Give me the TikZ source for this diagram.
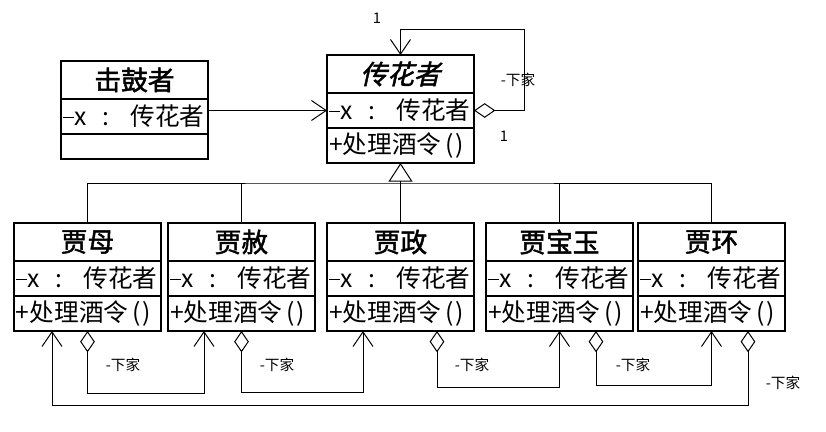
\documentclass[tikz,border=0pt]{standalone}
\usepackage{fontspec}
\setmainfont{Noto Sans CJK SC}
\newfontfamily\titlefont[FakeBold=1.8]{Noto Sans CJK SC}
\newfontfamily\abstractfont[FakeBold=1.8,FakeSlant=0.22]{Noto Sans CJK SC}
\usetikzlibrary{arrows.meta,positioning,calc}
\tikzset{
  classtitle/.style={draw, line width=0.9pt, minimum width=110.25pt, minimum height=28.5pt,
    inner sep=0pt, outer sep=0pt, anchor=north west, font=\titlefont\fontsize{20}{22}\selectfont},
  classrow/.style={draw, line width=0.9pt, minimum width=110.25pt, minimum height=26.25pt,
    text width=107.25pt, inner xsep=1.5pt, inner ysep=0pt, outer sep=0pt, align=left,
    font=\fontsize{18.5}{20}\selectfont},
  conn/.style={line width=0.75pt},
  assoc/.style={conn, -{Straight Barb[length=11pt,width=15pt]}},
  agg/.style={conn, {Diamond[open,length=16pt,width=11pt]}-{Straight Barb[length=11pt,width=15pt]}},
  inherit/.style={conn, -{Triangle[open,length=14pt,width=18pt]}},
  rolename/.style={font=\fontsize{11}{12}\selectfont, inner sep=1pt},
}
% name, top-left corner, title, attribute, operation
\newcommand\umlclass[6][]{%
  \node[classtitle] (#2) at (#3) {#4};
  \node[classrow, below=0pt of #2] (#2-attr) {#5};
  \node[classrow, below=0pt of #2-attr, #1] (#2-op) {#6};
}
\newcommand\attrx{\rule[0.3em]{0.45em}{0.06em}x\hspace{12pt}:\hspace{16pt}传花者}
\newcommand\opjiu{+处理酒令\hspace{3pt}(\hspace{1.5pt})}

\begin{document}
\begin{tikzpicture}[x=0.75pt, y=-0.75pt]
\useasboundingbox (0,0) rectangle (826,432);

% ---- classes ---------------------------------------------------------
\umlclass[minimum height=18.75pt]{jigu}{61,61}{击鼓者}{\attrx}{}
\umlclass{chuanhua}{327,55}{\abstractfont 传花者}{\attrx}{\opjiu}
\umlclass{jiamu}{14,223}{贾母}{\attrx}{\opjiu}
\umlclass{jiashe}{168,223}{贾赦}{\attrx}{\opjiu}
\umlclass{jiazheng}{327,223}{贾政}{\attrx}{\opjiu}
\umlclass{jiabaoyu}{486,223}{贾宝玉}{\attrx}{\opjiu}
\umlclass{jiahuan}{638,223}{贾环}{\attrx}{\opjiu}

% ---- drummer and self loop --------------------------------------------
\draw[assoc] (jigu-attr.east |- chuanhua-attr.west) -- (chuanhua-attr.west);
\coordinate (loop) at (524,29);
\draw[agg] (chuanhua-attr.east) -| (loop) -| (chuanhua.north);
\node[rolename] at (377,18) {1};
\node[rolename] at (518,80) {-下家};
\node[rolename] at (504,136) {1};

% ---- inheritance -----------------------------------------------------
\coordinate (bus) at (400,183);
\draw[conn] (jiamu.north) |- (bus) -| (jiahuan.north);
\foreach \c in {jiashe,jiabaoyu}
  \draw[conn] (\c.north) -- (\c.north |- bus);
\draw[inherit] (jiazheng.north) -- (chuanhua-op.south);

% ---- chain of successors ---------------------------------------------
\draw[agg] (jiamu-op.south) -- ++(0,62) -| ($(jiashe-op.south west)+(36,0)$);
\draw[agg] (jiashe-op.south) -- ++(0,61) -| ($(jiazheng-op.south west)+(36,0)$);
\draw[agg] ($(jiazheng-op.south west)+(110,0)$) -- ++(0,56) -| (jiabaoyu-op.south);
\draw[agg] ($(jiabaoyu-op.south west)+(110,0)$) -- ++(0,54) -| (jiahuan-op.south);
\draw[agg] ($(jiahuan-op.south west)+(110,0)$) -- ++(0,74) -| ($(jiamu-op.south west)+(38,0)$);
\node[rolename] at (123,365) {-下家};
\node[rolename] at (277,365) {-下家};
\node[rolename] at (472,365) {-下家};
\node[rolename] at (633,365) {-下家};
\node[rolename] at (783,383) {-下家};

\end{tikzpicture}
\end{document}
